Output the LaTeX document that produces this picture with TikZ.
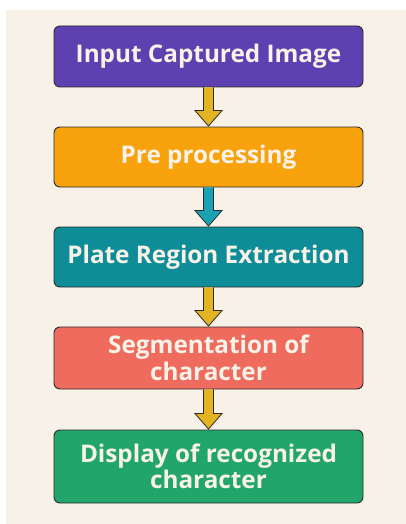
\documentclass[tikz,border=0pt]{standalone}
\usepackage{fontspec}
\setmainfont{Open Sans}[BoldFont={* Bold}]
\usetikzlibrary{calc}
\definecolor{bgcream}{HTML}{F8F1E7}
\definecolor{cpurple}{HTML}{5E40B0}
\definecolor{corange}{HTML}{F8A20E}
\definecolor{cteal}{HTML}{0E8D98}
\definecolor{csalmon}{HTML}{EE6B5E}
\definecolor{cgreen}{HTML}{22A56B}
\definecolor{cgold}{HTML}{E3B322}
\definecolor{carrowteal}{HTML}{1AA2B4}
\definecolor{cedge}{HTML}{2B2B2B}
\definecolor{ctext}{HTML}{F8F2E8}
\tikzset{
  stepbox/.style={draw=cedge, line width=0.9pt, rounded corners=6pt,
    minimum width=309pt, inner sep=0pt, align=center, text=ctext,
    font=\bfseries\fontsize{24.3}{26.5}\selectfont},
}
\newcommand{\fatarrow}[3]{%
  \path let \p1=(#1.south), \p2=(#2.north) in
    [fill=#3, draw=cedge, line width=0.8pt, line join=miter]
    (\x1-5pt,\y1) -- (\x1-5pt,\y2+16pt) -- (\x1-13.5pt,\y2+16pt) -- (\x1,\y2+0.5pt)
    -- (\x1+13.5pt,\y2+16pt) -- (\x1+5pt,\y2+16pt) -- (\x1+5pt,\y1);
}
\begin{document}
\begin{tikzpicture}[x=1pt,y=1pt]
\useasboundingbox (0,0) rectangle (406,-524);
\fill[white] (0,0) rectangle (406,-524);
\fill[bgcream] (6,-10) rectangle (406,-524);
\node[stepbox, fill=cpurple, minimum height=61pt] (n1) at (208.5,-56.5) {Input Captured Image};
\node[stepbox, fill=corange, minimum height=60pt] (n2) at (208.5,-157) {Pre processing};
\node[stepbox, fill=cteal, minimum height=60pt] (n3) at (208.5,-257) {Plate Region Extraction};
\node[stepbox, fill=csalmon, minimum height=62pt] (n4) at (208.5,-358) {Segmentation of\\character};
\node[stepbox, fill=cgreen, minimum height=73pt] (n5) at (208.5,-466.5) {Display of recognized\\character};
\fatarrow{n1}{n2}{cgold}
\fatarrow{n2}{n3}{carrowteal}
\fatarrow{n3}{n4}{cgold}
\fatarrow{n4}{n5}{cgold}
\end{tikzpicture}
\end{document}
